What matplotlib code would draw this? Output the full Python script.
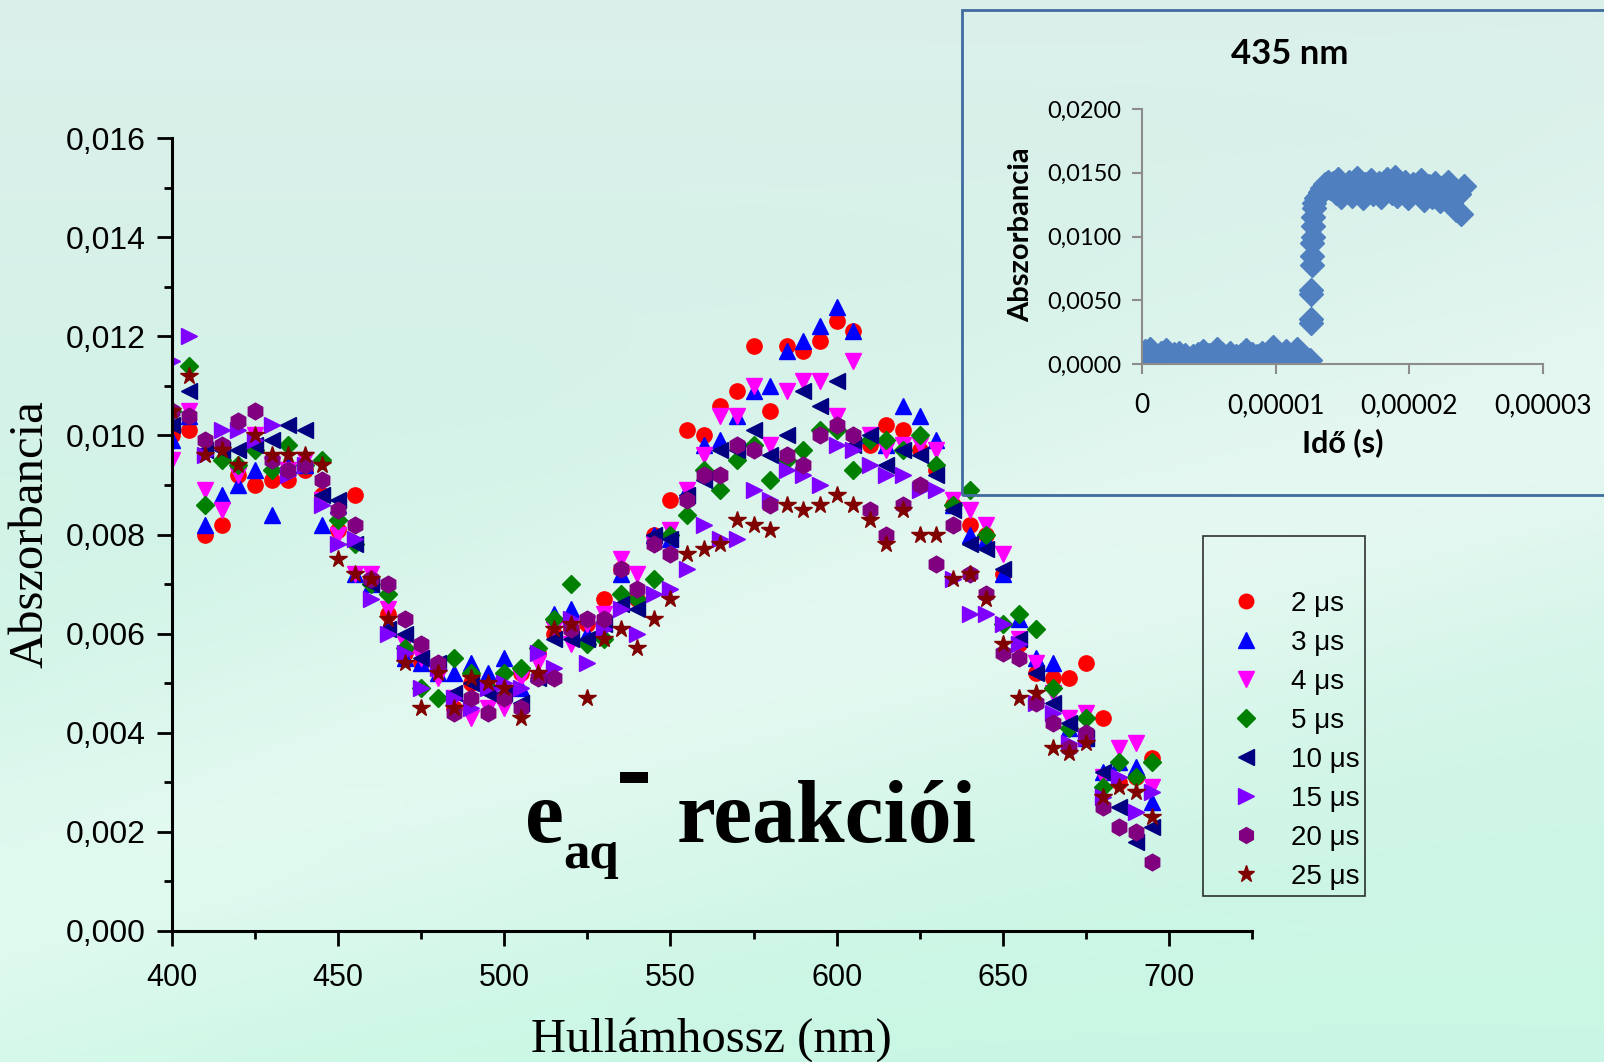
import numpy as np
import matplotlib
matplotlib.use('Agg')
import matplotlib.pyplot as plt
from matplotlib.ticker import FuncFormatter, MultipleLocator, FixedLocator
from matplotlib.patches import Rectangle

# ---------------- data: main spectra ----------------
wavelength = list(range(400, 700, 5))

a_2us = [0.0100, 0.0101, 0.0080, 0.0082, 0.0092, 0.0090, 0.0091, 0.0091, 0.0093, 0.0088,
         0.0081, 0.0088, 0.0071, 0.0064, 0.0056, 0.0054, 0.0053, 0.0045, 0.0050, 0.0049,
         0.0047, 0.0052, 0.0056, 0.0060, 0.0061, 0.0062, 0.0067, 0.0073, 0.0067, 0.0080,
         0.0087, 0.0101, 0.0100, 0.0106, 0.0109, 0.0118, 0.0105, 0.0118, 0.0117, 0.0119,
         0.0123, 0.0121, 0.0098, 0.0102, 0.0101, 0.0097, 0.0093, 0.0086, 0.0082, 0.0080,
         0.0072, 0.0058, 0.0052, 0.0051, 0.0051, 0.0054, 0.0043, 0.0030, 0.0031, 0.0035]
a_3us = [0.0099, 0.0104, 0.0082, 0.0088, 0.0090, 0.0093, 0.0084, 0.0094, 0.0094, 0.0082,
         0.0086, 0.0072, 0.0070, 0.0062, 0.0055, 0.0054, 0.0052, 0.0052, 0.0054, 0.0052,
         0.0055, 0.0049, 0.0052, 0.0064, 0.0065, 0.0060, 0.0063, 0.0072, 0.0068, 0.0080,
         0.0079, 0.0089, 0.0098, 0.0099, 0.0104, 0.0109, 0.0110, 0.0117, 0.0119, 0.0122,
         0.0126, 0.0121, 0.0100, 0.0098, 0.0106, 0.0104, 0.0099, 0.0086, 0.0080, 0.0079,
         0.0072, 0.0063, 0.0055, 0.0054, 0.0041, 0.0039, 0.0032, 0.0034, 0.0033, 0.0026]
a_4us = [0.0095, 0.0105, 0.0089, 0.0085, 0.0092, 0.0100, 0.0094, 0.0093, 0.0095, 0.0087,
         0.0080, 0.0072, 0.0072, 0.0065, 0.0058, 0.0055, 0.0051, 0.0047, 0.0043, 0.0045,
         0.0045, 0.0051, 0.0054, 0.0061, 0.0058, 0.0062, 0.0064, 0.0075, 0.0072, 0.0078,
         0.0081, 0.0089, 0.0096, 0.0104, 0.0104, 0.0110, 0.0098, 0.0109, 0.0111, 0.0111,
         0.0104, 0.0115, 0.0100, 0.0097, 0.0098, 0.0098, 0.0097, 0.0087, 0.0085, 0.0082,
         0.0076, 0.0059, 0.0054, 0.0048, 0.0043, 0.0044, 0.0031, 0.0037, 0.0038, 0.0029]
a_5us = [0.0105, 0.0114, 0.0086, 0.0095, 0.0094, 0.0097, 0.0093, 0.0098, 0.0094, 0.0095,
         0.0083, 0.0078, 0.0070, 0.0068, 0.0057, 0.0049, 0.0047, 0.0055, 0.0052, 0.0049,
         0.0052, 0.0053, 0.0057, 0.0063, 0.0070, 0.0058, 0.0059, 0.0068, 0.0067, 0.0071,
         0.0080, 0.0084, 0.0093, 0.0089, 0.0095, 0.0098, 0.0091, 0.0095, 0.0097, 0.0101,
         0.0101, 0.0093, 0.0099, 0.0099, 0.0097, 0.0100, 0.0094, 0.0086, 0.0089, 0.0080,
         0.0062, 0.0064, 0.0061, 0.0049, 0.0041, 0.0043, 0.0029, 0.0034, 0.0031, 0.0034]
a_10us = [0.0102, 0.0109, 0.0097, 0.0097, 0.0097, 0.0098, 0.0099, 0.0102, 0.0101, 0.0088,
          0.0087, 0.0078, 0.0070, 0.0061, 0.0060, 0.0055, 0.0054, 0.0048, 0.0050, 0.0048,
          0.0048, 0.0046, 0.0051, 0.0059, 0.0059, 0.0059, 0.0062, 0.0066, 0.0065, 0.0080,
          0.0079, 0.0088, 0.0091, 0.0097, 0.0097, 0.0101, 0.0096, 0.0100, 0.0109, 0.0106,
          0.0111, 0.0098, 0.0100, 0.0094, 0.0097, 0.0096, 0.0092, 0.0085, 0.0078, 0.0077,
          0.0073, 0.0059, 0.0052, 0.0046, 0.0042, 0.0039, 0.0032, 0.0025, 0.0018, 0.0021]
a_15us = [0.0115, 0.0120, 0.0096, 0.0101, 0.0101, 0.0099, 0.0102, 0.0092, 0.0094, 0.0086,
          0.0078, 0.0079, 0.0067, 0.0060, 0.0056, 0.0049, 0.0053, 0.0047, 0.0045, 0.0049,
          0.0050, 0.0049, 0.0056, 0.0053, 0.0063, 0.0054, 0.0061, 0.0065, 0.0060, 0.0068,
          0.0069, 0.0073, 0.0082, 0.0079, 0.0079, 0.0089, 0.0087, 0.0093, 0.0092, 0.0090,
          0.0098, 0.0097, 0.0094, 0.0092, 0.0092, 0.0089, 0.0089, 0.0071, 0.0064, 0.0064,
          0.0062, 0.0058, 0.0046, 0.0044, 0.0038, 0.0039, 0.0027, 0.0031, 0.0024, 0.0028]
a_20us = [0.0105, 0.0104, 0.0099, 0.0098, 0.0103, 0.0105, 0.0095, 0.0093, 0.0094, 0.0091,
          0.0085, 0.0082, 0.0071, 0.0070, 0.0063, 0.0058, 0.0054, 0.0044, 0.0047, 0.0044,
          0.0047, 0.0045, 0.0051, 0.0051, 0.0061, 0.0063, 0.0063, 0.0073, 0.0069, 0.0078,
          0.0076, 0.0087, 0.0092, 0.0092, 0.0098, 0.0097, 0.0086, 0.0096, 0.0094, 0.0100,
          0.0102, 0.0100, 0.0085, 0.0080, 0.0086, 0.0090, 0.0074, 0.0082, 0.0072, 0.0068,
          0.0056, 0.0055, 0.0046, 0.0042, 0.0037, 0.0040, 0.0025, 0.0021, 0.0020, 0.0014]
a_25us = [0.0105, 0.0112, 0.0096, 0.0097, 0.0094, 0.0100, 0.0096, 0.0096, 0.0096, 0.0094,
          0.0075, 0.0072, 0.0071, 0.0063, 0.0054, 0.0045, 0.0052, 0.0045, 0.0051, 0.0050,
          0.0049, 0.0043, 0.0052, 0.0061, 0.0062, 0.0047, 0.0059, 0.0061, 0.0057, 0.0063,
          0.0067, 0.0076, 0.0077, 0.0078, 0.0083, 0.0082, 0.0081, 0.0086, 0.0085, 0.0086,
          0.0088, 0.0086, 0.0083, 0.0078, 0.0085, 0.0080, 0.0080, 0.0071, 0.0072, 0.0067,
          0.0058, 0.0047, 0.0048, 0.0037, 0.0036, 0.0038, 0.0027, 0.0029, 0.0028, 0.0023]

series_values = [a_2us, a_3us, a_4us, a_5us, a_10us, a_15us, a_20us, a_25us]
series_labels = ['2 μs', '3 μs', '4 μs', '5 μs', '10 μs', '15 μs', '20 μs', '25 μs']
series_colors = ['#ff0000', '#0000ff', '#ff00ff', '#008000', '#000080', '#8000ff', '#800080', '#800000']
series_markers = ['o', '^', 'v', 'D', '<', '>', 'h', '*']
series_msize = [11, 12, 12, 9.5, 12, 12, 12, 13]

# ---------------- data: inset kinetics at 435 nm ----------------
t_base_us = [round(0.2 * i, 2) for i in range(60)]
a_base_e4 = [8, 10, 6, 12, 4, 7, 3, 9, 5, 11, 2, 6, 8, 4, 9, 3, 7, 5, 2, 6,
             4, 8, 3, 10, 5, 7, 2, 6, 12, 4, 8, 3, 5, 9, 2, 6, 4, 7, 3, 11,
             5, 8, 2, 6, 4, 9, 3, 7, 5, 13, 4, 8, 2, 6, 10, 3, 7, 5, 12, 4]
t_rise_us = [12.6, 12.62, 12.64, 12.66, 12.68, 12.7, 12.72, 12.75, 12.78, 12.8,
             12.83, 12.86, 12.9, 13.0, 13.15, 13.3, 13.5, 13.7, 13.9]
a_rise_e4 = [3, 32, 35, 55, 58, 78, 85, 95, 100, 108, 115, 122, 126, 130, 132, 135, 138, 141, 143]
a_plat_e4 = [138, 142, 134, 145, 131, 140, 136, 143, 132, 139, 146, 135, 130, 141, 137, 144, 133,
             138, 142, 131, 136, 145, 139, 134, 147, 132, 140, 137, 143, 130, 135, 141, 138, 133,
             144, 129, 136, 140, 131, 142, 137, 128, 139, 134, 143, 126, 138, 121, 133, 118, 140]
t_plat_us = [round(14.1 + 0.2 * i, 2) for i in range(len(a_plat_e4))]

inset_t = np.array(t_base_us + t_rise_us + t_plat_us) * 1e-6
inset_a = np.array(a_base_e4 + a_rise_e4 + a_plat_e4) * 1e-4

# ---------------- figure ----------------
fig = plt.figure(figsize=(16.04, 10.62), dpi=100)

# background gradient
bg = fig.add_axes([0, 0, 1, 1], zorder=-10)
H, W = 531, 802
yy, xx = np.mgrid[0:1:H * 1j, 0:1:W * 1j]
top = np.array([0.860, 0.940, 0.920])
bottom = np.array([0.790, 0.968, 0.895])
img = top * (1 - yy[..., None]) + bottom * yy[..., None]
band = np.exp(-((yy - 0.62 + 0.45 * (xx - 0.5)) / 0.2) ** 2)
img = img + (1 - img) * 0.40 * band[..., None]
bg.imshow(np.clip(img, 0, 1), aspect='auto', extent=[0, 1, 0, 1], origin='upper')
bg.axis('off')

serif = ['Liberation Serif', 'DejaVu Serif']
sans = ['Liberation Sans', 'DejaVu Sans']
cal = ['Lato', 'Open Sans', 'DejaVu Sans']

ax = fig.add_axes([0.1072, 0.1234, 0.6734, 0.7466])
ax.set_facecolor('none')
for vals, lbl, col, mk, ms in zip(series_values, series_labels, series_colors,
                                  series_markers, series_msize):
    ax.plot(wavelength, vals, linestyle='none', marker=mk, color=col, mec=col,
            ms=ms, label=lbl)

ax.set_xlim(400, 725)
ax.set_ylim(0, 0.016)
for s in ['top', 'right']:
    ax.spines[s].set_visible(False)
for s in ['left', 'bottom']:
    ax.spines[s].set_linewidth(2.2)
ax.xaxis.set_major_locator(FixedLocator([400, 450, 500, 550, 600, 650, 700]))
ax.xaxis.set_minor_locator(MultipleLocator(25))
ax.yaxis.set_major_locator(MultipleLocator(0.002))
ax.yaxis.set_minor_locator(MultipleLocator(0.001))
ax.yaxis.set_major_formatter(FuncFormatter(lambda v, p: f'{v:.3f}'.replace('.', ',')))
ax.tick_params(which='major', length=11, width=2, direction='out')
ax.tick_params(which='minor', length=6, width=2, direction='out')
ax.tick_params(axis='y', which='major', labelsize=23, pad=8)
ax.tick_params(axis='x', which='major', labelsize=22, pad=12)
for lab in ax.get_yticklabels() + ax.get_xticklabels():
    lab.set_family(sans)

fig.text(31 / 1604, 1 - 534 / 1062, 'Abszorbancia', rotation=90, ha='center', va='center',
         fontsize=35, family=serif)
fig.text(711 / 1604, 1 - 1040 / 1062, 'Hullámhossz (nm)', ha='center', va='center',
         fontsize=35, family=serif)

# big annotation text
fig.text(525 / 1604, 1 - 842 / 1062, 'e', ha='left', va='baseline', fontsize=63,
         fontweight='bold', family=serif)
fig.text(563 / 1604, 1 - 868 / 1062, 'aq', ha='left', va='baseline', fontsize=38,
         fontweight='bold', family=serif)
fig.patches.append(Rectangle((620 / 1604, 1 - 783 / 1062), 28 / 1604, 11 / 1062,
                             transform=fig.transFigure, facecolor='black', edgecolor='none'))
fig.text(677 / 1604, 1 - 842 / 1062, 'reakciói', ha='left', va='baseline', fontsize=63,
         fontweight='bold', family=serif)

# legend
handles, labels = ax.get_legend_handles_labels()
leg = fig.legend(handles, labels, loc='upper left', bbox_to_anchor=(1203 / 1604, 1 - 536 / 1062),
                 title=' ', title_fontsize=27, prop={'family': sans, 'size': 20},
                 frameon=True, fancybox=False, borderpad=0.2, handlelength=2.66,
                 handletextpad=0.3, labelspacing=0.47, markerscale=0.95, borderaxespad=0)
leg.get_frame().set_edgecolor('black')
leg.get_frame().set_linewidth(1.2)
leg.get_frame().set_facecolor('none')

# inset frame
fig.patches.append(Rectangle((962 / 1604, 1 - 495 / 1062), 0.5, 485 / 1062,
                             transform=fig.transFigure, facecolor='none',
                             edgecolor='#3f6b9e', linewidth=2))

ins = fig.add_axes([1142 / 1604, 1 - 364 / 1062, 401 / 1604, 255 / 1062])
ins.set_facecolor('none')
ins.plot(inset_t, inset_a, linestyle='none', marker='D', ms=12.5, color='#4f7fbf', mec='#4f7fbf')
ins.set_xlim(0, 3e-5)
ins.set_ylim(0, 0.02)
for s in ['top', 'right']:
    ins.spines[s].set_visible(False)
for s in ['left', 'bottom']:
    ins.spines[s].set_color('#8c8c8c')
    ins.spines[s].set_linewidth(1.5)
ins.xaxis.set_major_locator(FixedLocator([0, 1e-5, 2e-5, 3e-5]))
ins.xaxis.set_major_formatter(FuncFormatter(
    lambda v, p: '0' if abs(v) < 1e-12 else f'{v:.5f}'.replace('.', ',')))
ins.yaxis.set_major_locator(MultipleLocator(0.005))
ins.yaxis.set_major_formatter(FuncFormatter(lambda v, p: f'{v:.4f}'.replace('.', ',')))
ins.tick_params(which='major', length=7, width=1.5, color='#8c8c8c', direction='out')
ins.tick_params(axis='x', pad=14, labelsize=19)
ins.tick_params(axis='y', pad=8, labelsize=17)
for lab in ins.get_xticklabels() + ins.get_yticklabels():
    lab.set_family(cal)

fig.text(1290 / 1604, 1 - 54 / 1062, '435 nm', ha='center', va='center', fontsize=25,
         fontweight='bold', family=cal)
fig.text(1021 / 1604, 1 - 235 / 1062, 'Abszorbancia', rotation=90, ha='center', va='center',
         fontsize=21, fontweight='bold', family=cal)
fig.text(1343 / 1604, 1 - 443 / 1062, 'Idő (s)', ha='center', va='center', fontsize=22,
         fontweight='bold', family=cal)

fig.savefig('out.png', dpi=100)
